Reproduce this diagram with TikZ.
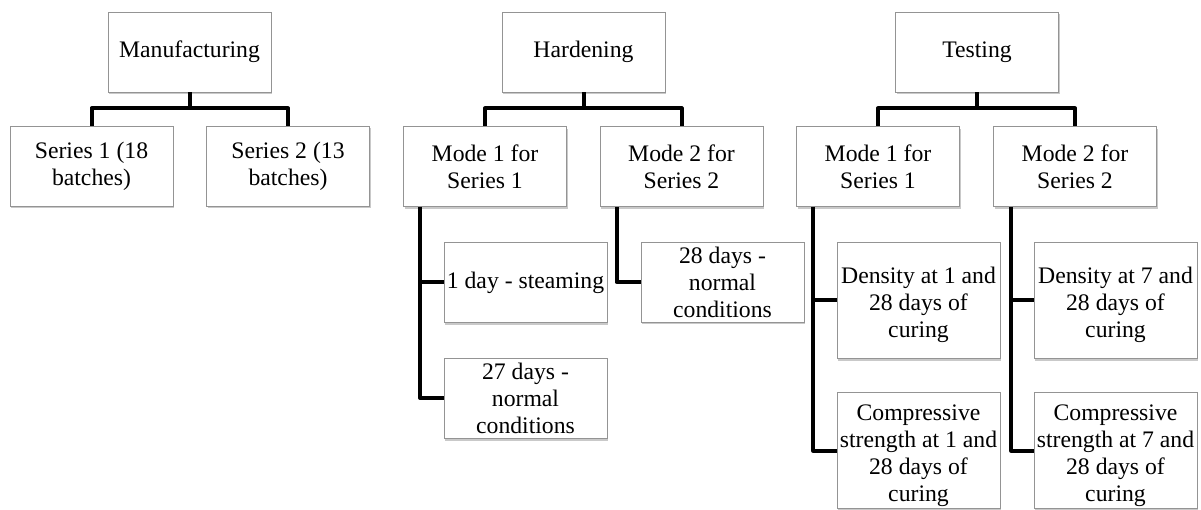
\documentclass[tikz,border=0pt]{standalone}
\usepackage{fontspec}
\setmainfont{Liberation Serif}
\usetikzlibrary{shadows}
\newcommand\myTopStrut{\rule{0pt}{27pt}}
\begin{document}
\begin{tikzpicture}[x=1pt,y=-1pt,
  box/.style={draw=black!42, line width=0.9pt, fill=white, minimum width=163pt,
    minimum height=80pt, align=center, inner sep=1pt,
    font=\fontsize{23.7}{27}\selectfont,
    drop shadow={shadow xshift=1pt, shadow yshift=-2.5pt, opacity=0.3, fill=black!70}},
  tall/.style={box, minimum height=116pt},
  link/.style={line width=4pt, line join=round}]
\useasboundingbox (0,0) rectangle (1201,510);

% top level
\node[box] (man)  at (189.5,52) {Manufacturing};
\node[box] (hard) at (583.5,52) {Hardening};
\node[box] (test) at (977,52)   {Testing};

% second level
\node[box] (s1)  at (91.5,166)  {Series 1 (18\\batches)};
\node[box] (s2)  at (288,166)   {Series 2 (13\\batches)};
\node[box] (hm1) at (485,166.5) {Mode 1 for\\Series 1};
\node[box] (hm2) at (681.5,166.5) {Mode 2 for\\Series 2};
\node[box] (tm1) at (878,166.5) {Mode 1 for\\Series 1};
\node[box] (tm2) at (1075,166.5) {Mode 2 for\\Series 2};

% hardening details
\node[box] (h1)  at (525.5,282.5) {1 day - steaming};
\node[box] (h27) at (525.5,398)   {27 days -\\normal\\conditions};
\node[box] (h28) at (722.5,282)   {28 days -\\normal\\conditions};

% testing details
\node[tall] (td1) at (918.5,300)   {\myTopStrut Density at 1 and\\28 days of\\curing};
\node[tall] (tc1) at (918.5,450.5) {\myTopStrut Compressive\\strength at 1 and\\28 days of\\curing};
\node[tall] (td7) at (1115.5,300)  {\myTopStrut Density at 7 and\\28 days of\\curing};
\node[tall] (tc7) at (1115.5,450.5) {\myTopStrut Compressive\\strength at 7 and\\28 days of\\curing};

% tree connectors
\draw[link] (man.south) -- ++(0,16) -| (s1.north);
\draw[link] (man.south) -- ++(0,16) -| (s2.north);
\draw[link] (hard.south) -- ++(0,16) -| (hm1.north);
\draw[link] (hard.south) -- ++(0,16) -| (hm2.north);
\draw[link] (test.south) -- ++(0,16) -| (tm1.north);
\draw[link] (test.south) -- ++(0,16) -| (tm2.north);

% side connectors
\draw[link] ([xshift=17pt]hm1.south west) |- (h1.west);
\draw[link] ([xshift=17pt]hm1.south west) |- (h27.west);
\draw[link] ([xshift=17pt]hm2.south west) |- (h28.west);
\draw[link] ([xshift=17pt]tm1.south west) |- (td1.west);
\draw[link] ([xshift=17pt]tm1.south west) |- (tc1.west);
\draw[link] ([xshift=18pt]tm2.south west) |- (td7.west);
\draw[link] ([xshift=18pt]tm2.south west) |- (tc7.west);
\end{tikzpicture}
\end{document}
